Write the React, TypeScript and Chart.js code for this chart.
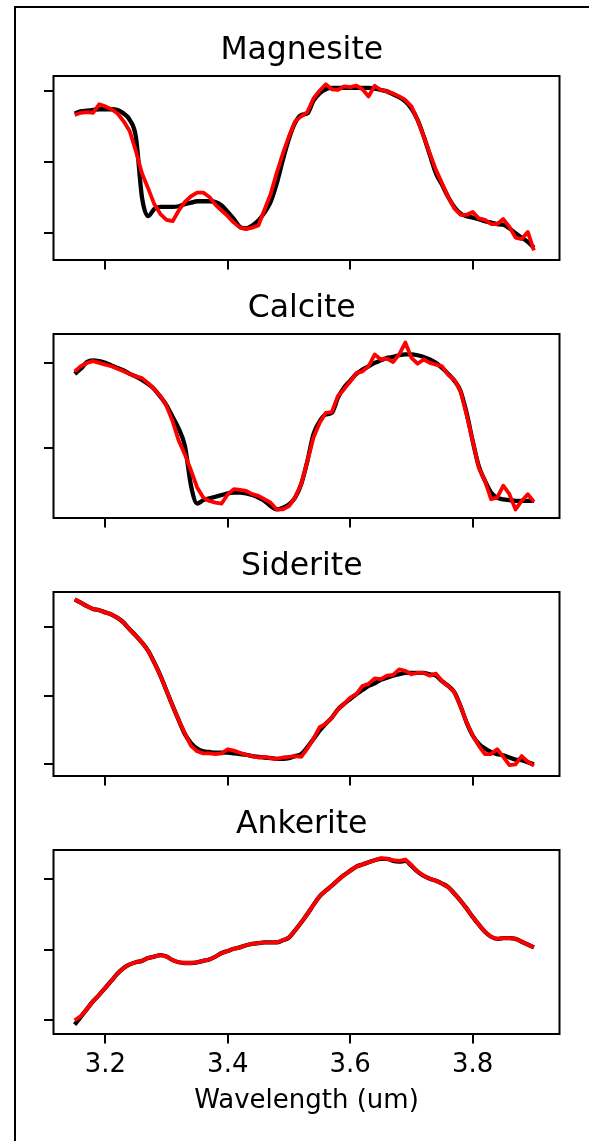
import React, { useEffect, useRef } from 'react';
import { Chart, registerables } from 'chart.js';

Chart.register(...registerables);

const FONT = "'DejaVu Sans', 'Liberation Sans', sans-serif";

const wavelengths = [
  3.15, 3.16, 3.17, 3.18, 3.19, 3.2, 3.21, 3.22, 3.23, 3.24,
  3.25, 3.26, 3.27, 3.28, 3.29, 3.3, 3.31, 3.32, 3.33, 3.34,
  3.35, 3.36, 3.37, 3.38, 3.39, 3.4, 3.41, 3.42, 3.43, 3.44,
  3.45, 3.46, 3.47, 3.48, 3.49, 3.5, 3.51, 3.52, 3.53, 3.54,
  3.55, 3.56, 3.57, 3.58, 3.59, 3.6, 3.61, 3.62, 3.63, 3.64,
  3.65, 3.66, 3.67, 3.68, 3.69, 3.7, 3.71, 3.72, 3.73, 3.74,
  3.75, 3.76, 3.77, 3.78, 3.79, 3.8, 3.81, 3.82, 3.83, 3.84,
  3.85, 3.86, 3.87, 3.88, 3.89, 3.9,
];

const xTickValues = [3.2, 3.4, 3.6, 3.8];
const xLabel = 'Wavelength (um)';
const panelTitles = ['Magnesite', 'Calcite', 'Siderite', 'Ankerite'];

// black: reference spectrum, red: fitted spectrum
const magnesiteRef = [
  1.68, 1.71, 1.72, 1.73, 1.74, 1.74, 1.74, 1.73, 1.68, 1.59,
  1.35, 0.5, 0.24, 0.34, 0.37, 0.37, 0.37, 0.38, 0.41, 0.43,
  0.45, 0.45, 0.45, 0.44, 0.39, 0.3, 0.2, 0.09, 0.07, 0.11,
  0.18, 0.29, 0.44, 0.7, 1.03, 1.33, 1.55, 1.66, 1.68, 1.86,
  1.96, 2.02, 2.04, 2.04, 2.04, 2.04, 2.04, 2.04, 2.04, 2.03,
  2.01, 1.99, 1.95, 1.91, 1.85, 1.75, 1.59, 1.36, 1.1, 0.84,
  0.68, 0.51, 0.37, 0.28, 0.24, 0.22, 0.2, 0.17, 0.15, 0.13,
  0.12, 0.07, 0.0, -0.06, -0.12, -0.2,
];
const magnesiteFit = [
  1.66, 1.69, 1.7, 1.69, 1.81, 1.78, 1.74, 1.68, 1.57, 1.43,
  1.15, 0.84, 0.63, 0.41, 0.27, 0.19, 0.17, 0.32, 0.44, 0.52,
  0.57, 0.57, 0.51, 0.4, 0.32, 0.24, 0.15, 0.08, 0.06, 0.08,
  0.11, 0.33, 0.55, 0.85, 1.12, 1.36, 1.57, 1.64, 1.7, 1.89,
  2.0, 2.09, 2.02, 2.01, 2.06, 2.05, 2.07, 2.02, 1.92, 2.07,
  2.01, 1.99, 1.96, 1.92, 1.87, 1.78, 1.59, 1.36, 1.12, 0.89,
  0.7, 0.51, 0.35, 0.26, 0.26, 0.3, 0.21, 0.19, 0.13, 0.13,
  0.2, 0.09, -0.06, -0.08, 0.02, -0.24,
];

const calciteRef = [
  0.87, 0.93, 1.01, 1.03, 1.02, 1.0, 0.97, 0.94, 0.91, 0.87,
  0.84, 0.8, 0.75, 0.69, 0.6, 0.5, 0.36, 0.22, 0.02, -0.45,
  -0.66, -0.62, -0.6, -0.58, -0.56, -0.54, -0.53, -0.53, -0.54, -0.56,
  -0.59, -0.63, -0.69, -0.73, -0.71, -0.67, -0.59, -0.43, -0.16, 0.16,
  0.31, 0.39, 0.41, 0.59, 0.71, 0.79, 0.87, 0.92, 0.96, 1.0,
  1.03, 1.06, 1.07, 1.09, 1.1, 1.1, 1.09, 1.07, 1.04, 1.0,
  0.94, 0.87, 0.79, 0.67, 0.41, 0.08, -0.22, -0.39, -0.53, -0.59,
  -0.61, -0.62, -0.63, -0.63, -0.63, -0.63,
];
const calciteFit = [
  0.9, 0.96, 1.0, 1.02, 1.0, 0.98, 0.96, 0.93, 0.9, 0.87,
  0.84, 0.82, 0.76, 0.69, 0.61, 0.49, 0.31, 0.08, -0.08, -0.27,
  -0.47, -0.59, -0.63, -0.65, -0.66, -0.55, -0.49, -0.5, -0.51, -0.55,
  -0.57, -0.61, -0.65, -0.73, -0.73, -0.69, -0.59, -0.43, -0.16, 0.12,
  0.29, 0.41, 0.42, 0.61, 0.69, 0.78, 0.88, 0.9, 0.96, 1.1,
  1.04, 1.05, 1.01, 1.1, 1.24, 1.06, 0.99, 1.04, 1.0, 0.98,
  0.96, 0.86, 0.8, 0.67, 0.39, 0.08, -0.24, -0.39, -0.61, -0.59,
  -0.45, -0.55, -0.73, -0.63, -0.55, -0.64,
];

const sideriteRef = [
  2.4, 2.35, 2.3, 2.26, 2.24, 2.21, 2.18, 2.13, 2.06, 1.96,
  1.87, 1.77, 1.65, 1.48, 1.29, 1.07, 0.85, 0.64, 0.44, 0.31,
  0.23, 0.19, 0.18, 0.17, 0.17, 0.17, 0.16, 0.15, 0.14, 0.12,
  0.11, 0.1, 0.09, 0.08, 0.08, 0.09, 0.12, 0.15, 0.25, 0.37,
  0.49, 0.59, 0.68, 0.8, 0.88, 0.95, 1.02, 1.08, 1.14, 1.18,
  1.23, 1.26, 1.29, 1.31, 1.33, 1.33, 1.33, 1.33, 1.31, 1.29,
  1.21, 1.14, 1.05, 0.85, 0.61, 0.42, 0.3, 0.23, 0.18, 0.15,
  0.13, 0.1, 0.07, 0.06, 0.03, 0.0,
];
const sideriteFit = [
  2.4, 2.35, 2.3, 2.26, 2.24, 2.21, 2.18, 2.13, 2.06, 1.96,
  1.87, 1.77, 1.65, 1.48, 1.29, 1.07, 0.85, 0.64, 0.45, 0.27,
  0.19, 0.16, 0.16, 0.15, 0.16, 0.22, 0.2, 0.17, 0.14, 0.12,
  0.1, 0.11, 0.09, 0.08, 0.1, 0.11, 0.12, 0.11, 0.23, 0.37,
  0.54, 0.59, 0.68, 0.8, 0.88, 0.97, 1.02, 1.14, 1.17, 1.25,
  1.24, 1.29, 1.3, 1.38, 1.36, 1.31, 1.33, 1.33, 1.29, 1.32,
  1.21, 1.14, 1.05, 0.85, 0.61, 0.42, 0.27, 0.15, 0.15, 0.22,
  0.11, -0.01, 0.0, 0.12, 0.04, -0.02,
];

const ankeriteRef = [
  -0.06, 0.05, 0.16, 0.27, 0.36, 0.46, 0.56, 0.66, 0.74, 0.79,
  0.82, 0.84, 0.88, 0.9, 0.92, 0.9, 0.85, 0.82, 0.81, 0.81,
  0.82, 0.84, 0.86, 0.9, 0.95, 0.98, 1.01, 1.03, 1.06, 1.08,
  1.09, 1.1, 1.1, 1.1, 1.13, 1.17, 1.27, 1.38, 1.5, 1.63,
  1.75, 1.83, 1.9, 1.98, 2.05, 2.11, 2.17, 2.2, 2.23, 2.26,
  2.28, 2.28, 2.25, 2.24, 2.25, 2.18, 2.1, 2.04, 2.0, 1.97,
  1.93, 1.88, 1.79, 1.69, 1.58, 1.46, 1.35, 1.25, 1.18, 1.15,
  1.16, 1.16, 1.15, 1.11, 1.07, 1.03,
];
const ankeriteFit = [
  0.0, 0.06, 0.16, 0.27, 0.36, 0.46, 0.56, 0.66, 0.74, 0.79,
  0.82, 0.84, 0.88, 0.9, 0.92, 0.9, 0.85, 0.82, 0.81, 0.81,
  0.82, 0.84, 0.86, 0.9, 0.95, 0.98, 1.01, 1.03, 1.06, 1.08,
  1.09, 1.1, 1.1, 1.1, 1.13, 1.17, 1.27, 1.38, 1.5, 1.63,
  1.75, 1.83, 1.9, 1.98, 2.05, 2.11, 2.17, 2.2, 2.23, 2.26,
  2.29, 2.28, 2.26, 2.25, 2.27, 2.19, 2.1, 2.04, 2.0, 1.97,
  1.93, 1.88, 1.79, 1.69, 1.58, 1.46, 1.35, 1.25, 1.18, 1.15,
  1.16, 1.16, 1.15, 1.11, 1.07, 1.03,
];

const refSeries = [magnesiteRef, calciteRef, sideriteRef, ankeriteRef];
const fitSeries = [magnesiteFit, calciteFit, sideriteFit, ankeriteFit];
const yMins = [-0.374, -0.831, -0.169, -0.192];
const yMaxs = [2.206, 1.341, 2.506, 2.404];
const yTickSets = [[0, 1, 2], [0, 1], [0, 1, 2], [0, 1, 2]];

const X_MIN = 3.1154;
const X_MAX = 3.9418;
const PANEL_TOPS = [76, 334, 592, 850];
const PLOT_H = 184;
const TITLE_SPACE = 70;
const CANVAS_W = 589;

const boxPlugin = {
  id: 'axesBox',
  afterDatasetsDraw(chart: any) {
    const { ctx, chartArea } = chart;
    ctx.save();
    ctx.strokeStyle = '#000';
    ctx.lineWidth = 2;
    ctx.strokeRect(chartArea.left, chartArea.top, chartArea.right - chartArea.left, chartArea.bottom - chartArea.top);
    ctx.restore();
  },
};

function Panel({ index }: { index: number }) {
  const ref = useRef<HTMLCanvasElement | null>(null);
  const isBottom = index === panelTitles.length - 1;
  const top = PANEL_TOPS[index];
  const canvasTop = top - TITLE_SPACE;
  const canvasH = isBottom ? 1141 - canvasTop : TITLE_SPACE + PLOT_H + 12;
  const xAxisH = canvasH - TITLE_SPACE - PLOT_H;

  useEffect(() => {
    if (!ref.current) return;
    const chart = new Chart(ref.current, {
      type: 'line',
      data: {
        datasets: [
          {
            label: 'Reference',
            data: wavelengths.map((x, i) => ({ x, y: refSeries[index][i] })),
            borderColor: '#000000',
            borderWidth: 4.3,
            pointRadius: 0,
            cubicInterpolationMode: 'monotone',
            borderJoinStyle: 'round',
            order: 1,
          },
          {
            label: 'Fit',
            data: wavelengths.map((x, i) => ({ x, y: fitSeries[index][i] })),
            borderColor: '#ff0000',
            borderWidth: 3.8,
            pointRadius: 0,
            tension: 0,
            borderJoinStyle: 'round',
            order: 0,
          },
        ],
      },
      options: {
        animation: false,
        responsive: false,
        events: [],
        layout: { padding: { left: 44, right: 29.5, top: 0, bottom: 0 } },
        plugins: {
          legend: { display: false },
          tooltip: { enabled: false },
          title: {
            display: true,
            text: panelTitles[index],
            color: '#000',
            font: { family: FONT, size: 31.5, weight: 'normal' },
            padding: { top: 26.4, bottom: 5.8 },
          },
        },
        scales: {
          x: {
            type: 'linear',
            min: X_MIN,
            max: X_MAX,
            afterBuildTicks: (s: any) => {
              s.ticks = xTickValues.map((v) => ({ value: v }));
            },
            afterFit: (s: any) => {
              s.height = xAxisH;
            },
            grid: { drawOnChartArea: false, drawTicks: true, tickLength: 9.5, color: '#000', lineWidth: 2 },
            border: { display: false },
            ticks: {
              display: isBottom,
              color: '#000',
              font: { family: FONT, size: 26 },
              padding: 5.9,
              maxRotation: 0,
              autoSkip: false,
              callback: (v: any) => Number(v).toFixed(1),
            },
            title: {
              display: isBottom,
              text: xLabel,
              color: '#000',
              font: { family: FONT, size: 26 },
              padding: { top: 0, bottom: 24.4 },
            },
          },
          y: {
            type: 'linear',
            min: yMins[index],
            max: yMaxs[index],
            afterBuildTicks: (s: any) => {
              s.ticks = yTickSets[index].map((v) => ({ value: v }));
            },
            afterFit: (s: any) => {
              s.width = 9.5;
            },
            grid: { drawOnChartArea: false, drawTicks: true, tickLength: 9.5, color: '#000', lineWidth: 2 },
            border: { display: false },
            ticks: { display: false },
          },
        },
      } as any,
      plugins: [boxPlugin],
    });
    return () => chart.destroy();
  }, [index]);

  return (
    <canvas
      ref={ref}
      width={CANVAS_W}
      height={canvasH}
      style={{ position: 'absolute', left: 0, top: canvasTop, width: CANVAS_W, height: canvasH, display: 'block' }}
    />
  );
}

export default function App() {
  return (
    <div
      style={{
        position: 'fixed',
        left: 0,
        top: 0,
        width: 589,
        height: 1141,
        background: '#fff',
        overflow: 'hidden',
      }}
    >
      <div
        style={{
          position: 'absolute',
          left: 14,
          top: 6,
          width: 600,
          height: 1200,
          borderLeft: '2px solid #000',
          borderTop: '2px solid #000',
        }}
      />
      {panelTitles.map((_, i) => (
        <Panel key={i} index={i} />
      ))}
    </div>
  );
}
